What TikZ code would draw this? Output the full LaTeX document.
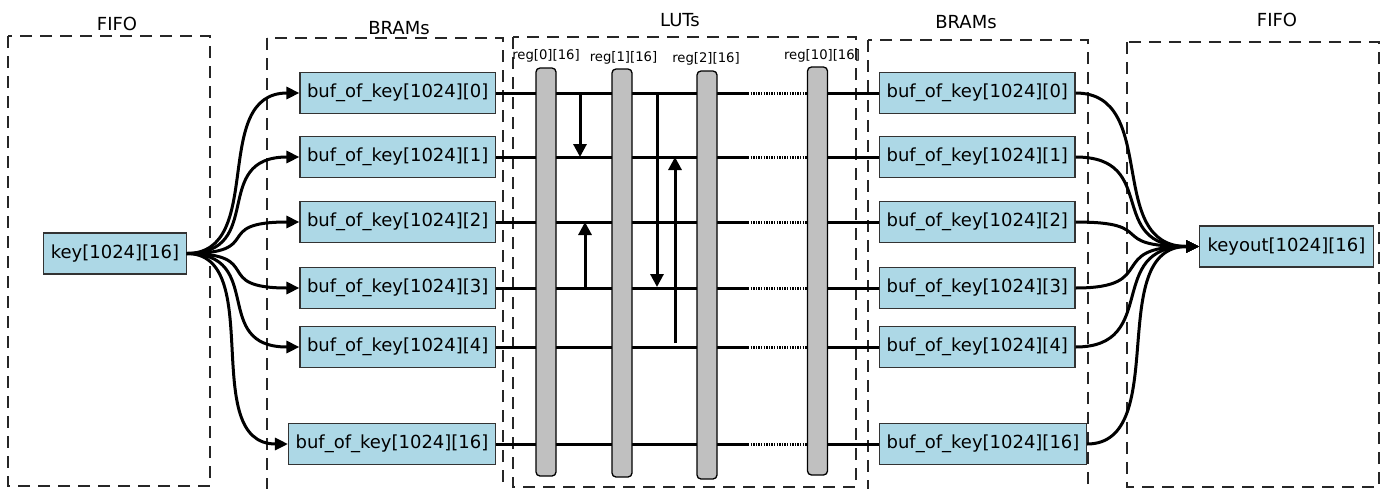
\documentclass[tikz,border=0pt]{standalone}
\usepackage{fontspec}
\setmainfont{DejaVu Sans}
\usetikzlibrary{arrows.meta,backgrounds}
\definecolor{bufblue}{RGB}{173,216,230}
\definecolor{reggray}{RGB}{192,192,192}
\begin{document}
\begin{tikzpicture}[x=1pt,y=-1pt,
 grp/.style={draw=black!85, line width=1.5pt, dash pattern=on 12pt off 8pt},
 grplabel/.style={font=\fontsize{18}{20}\selectfont, inner sep=0pt},
 buf/.style={draw=black!80, fill=bufblue, line width=1.2pt, minimum height=41pt, inner xsep=7pt, inner ysep=0pt, font=\fontsize{18}{20}\selectfont},
 regbar/.style={draw=black, fill=reggray, line width=1.3pt, rounded corners=4pt, minimum width=20pt, minimum height=408pt, inner sep=0pt},
 reglabel/.style={font=\fontsize{13.2}{15}\selectfont, inner sep=0pt},
 wire/.style={line width=3pt},
 dotwire/.style={line width=3pt, dash pattern=on 1.4pt off 1.2pt},
 conn/.style={line width=3pt, -{Triangle[length=13pt,width=12pt]}},
 varrow/.style={line width=3pt, -{Triangle[length=13pt,width=13pt]}},
]
\useasboundingbox (0,0) rectangle (1389,488);

% group labels
\node[grplabel] (tFIFOa) at (117,24) {FIFO};
\node[grplabel] (tBRAMa) at (399,28) {BRAMs};
\node[grplabel] (tLUT) at (680,20) {LUTs};
\node[grplabel] (tBRAMb) at (966,22) {BRAMs};
\node[grplabel] (tFIFOb) at (1277,20) {FIFO};

% buffers
\foreach \i/\y/\t in {0/93/0,1/157/1,2/222/2,3/288/3,4/347/4,5/444/16} {
  \node[buf, anchor=east] (L\i) at (496,\y) {buf\_of\_key[1024][\t]};
  \node[buf, anchor=west] (R\i) at (879,\y) {buf\_of\_key[1024][\t]};
  \coordinate (d\i) at (748,\y);
}
\node[buf] (key) at (115,253.5) {key[1024][16]};
\node[buf, anchor=west, inner xsep=8pt] (keyout) at (1199,246.5) {keyout[1024][16]};

% registers
\node[regbar] (g0) at (546,272) {};
\node[regbar] (g1) at (622,273) {};
\node[regbar] (g2) at (707,275) {};
\node[regbar] (g10) at (817.5,271) {};
\node[reglabel] (lg0) at (546,56) {reg[0][16]};
\node[reglabel] (lg1) at (623.5,58) {reg[1][16]};
\node[reglabel] (lg2) at (706,59) {reg[2][16]};
\node[reglabel] (lg10) at (822,56) {reg[10][16]};

\begin{scope}[on background layer]
  \draw[grp] (8,36) rectangle (210,486);
  \draw[grp] (267,38) rectangle (503,492);
  \draw[grp] (513,37) rectangle (856,487);
  \draw[grp] (868,40) rectangle (1088,492);
  \draw[grp] (1127,42) rectangle (1379,487);
  \foreach \i in {0,...,5} {
    \draw[wire] (L\i.east) -- (d\i);
    \draw[dotwire] (d\i) -- (g10.center |- d\i);
    \draw[wire] (g10.center |- d\i) -- (R\i.west);
  }
\end{scope}

% data moves between rows
\coordinate (a1s) at (580,93);  \coordinate (a1e) at (580,157);
\coordinate (a2s) at (585,288); \coordinate (a2e) at (585,222);
\coordinate (a3s) at (657,93);  \coordinate (a3e) at (657,287);
\coordinate (a4s) at (675,343); \coordinate (a4e) at (675,157);
\draw[varrow] (a1s) -- (a1e);
\draw[varrow] (a2s) -- (a2e);
\draw[varrow] (a3s) -- (a3e);
\draw[varrow] (a4s) -- (a4e);

% fan out / fan in
\foreach \i in {0,...,5}
  \draw[conn] (key.east) .. controls +(80,0) and +(-90,0) .. (L\i.west);
\foreach \i in {0,...,5}
  \draw[conn] (R\i.east) .. controls +(85,0) and +(-95,0) .. (keyout.west);
\end{tikzpicture}
\end{document}
